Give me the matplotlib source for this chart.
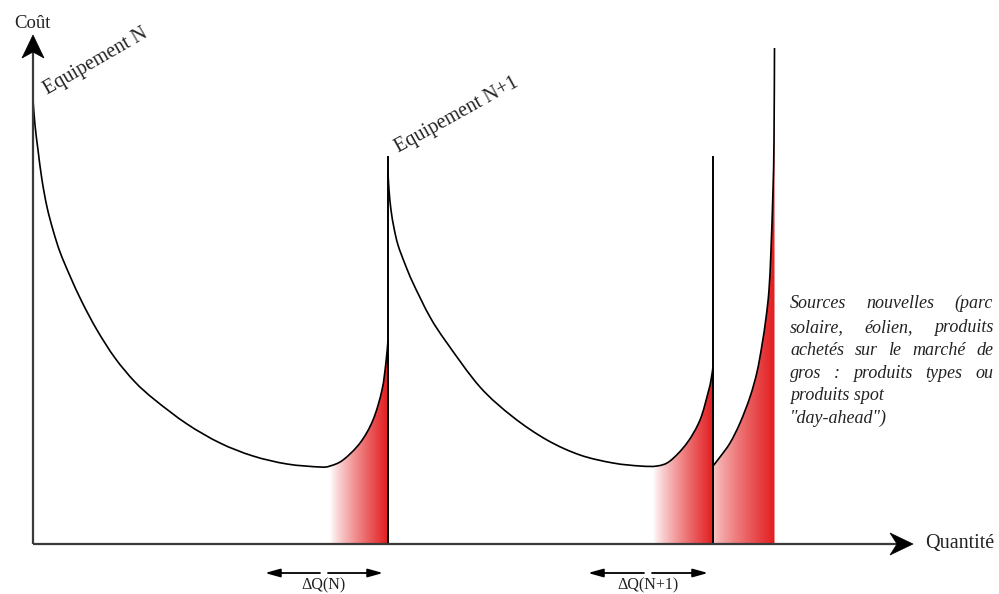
import numpy as np
import matplotlib
matplotlib.use("Agg")
import matplotlib.pyplot as plt
from matplotlib.patches import Polygon, PathPatch
from matplotlib.path import Path

# ---------------- data (quantity, cost) ----------------
curve1_q = [0, 2, 5, 9, 14, 20, 27, 37, 49, 64, 82, 102, 122, 154, 187, 220, 254, 287,
            297, 310, 327, 340, 349, 353, 355]
curve1_c = [444, 419, 394, 364, 337, 314, 292, 268, 242, 214, 186, 162, 144, 120, 101, 88, 80, 77,
            78, 84, 101, 124, 154, 182, 204]

curve2_q = [355, 356, 358, 361, 365, 372, 380, 397, 414, 447, 480, 514, 547, 580, 607, 624,
            637, 654, 667, 675, 678, 680]
curve2_c = [372, 354, 334, 316, 299, 280, 261, 227, 201, 157, 127, 104, 89, 81, 78, 78,
            83, 101, 124, 151, 164, 177]

curve3_q = [680, 687, 697, 707, 717, 724, 729, 733, 736, 738, 740, 741, 741.5]
curve3_c = [78, 87, 101, 121, 147, 172, 199, 226, 254, 294, 354, 404, 496]

equip_q = [355, 680]          # vertical lines (new equipment)
equip_top = [387, 387]

fill_ranges = [(297, 355), (620, 680), (680, 741.5)]
fill_alpha0 = [0.0, 0.0, 0.25]

delta_labels = ["ΔQ(N)", "ΔQ(N+1)"]
delta_centers = [291, 615]
delta_left = [232, 555]
delta_right = [350, 675]

para_lines = ["Sources nouvelles (parc", "solaire, éolien, produits",
              "achetés sur le marché de", "gros : produits types ou",
              "produits spot", "\"day-ahead\")"]
para_justify = [True, True, True, True, False, False]

RED = (0.89, 0.11, 0.12)
AXC = "#3a3a3a"
TXT = "#222222"


def smooth_path(qs, cs, close_to_axis=False):
    """Catmull-Rom through the read points, drawn as cubic Bezier segments."""
    p = np.column_stack([qs, cs]).astype(float)
    n = len(p)
    verts = [tuple(p[0])]
    codes = [Path.MOVETO]
    for i in range(n - 1):
        p0 = p[i - 1] if i > 0 else p[i]
        p1, p2 = p[i], p[i + 1]
        p3 = p[i + 2] if i + 2 < n else p[i + 1]
        c1 = p1 + (p2 - p0) / 6.0
        c2 = p2 - (p3 - p1) / 6.0
        verts += [tuple(c1), tuple(c2), tuple(p2)]
        codes += [Path.CURVE4] * 3
    if close_to_axis:
        verts += [(p[-1, 0], 0), (p[0, 0], 0), (p[0, 0], 0)]
        codes += [Path.LINETO, Path.LINETO, Path.CLOSEPOLY]
    return Path(verts, codes)


fig = plt.figure(figsize=(9.99, 5.94), dpi=100)
ax = fig.add_axes([0, 0, 1, 1])
ax.axis("off")

segments = [(np.array(curve1_q, float), np.array(curve1_c, float)),
            (np.array(curve2_q, float), np.array(curve2_c, float)),
            (np.array(curve3_q, float), np.array(curve3_c, float))]

# gradient fills under the curves
for (q0, q1), a0, (cq, cc) in zip(fill_ranges, fill_alpha0, segments):
    clip = PathPatch(smooth_path(cq, cc, close_to_axis=True), facecolor="none", edgecolor="none")
    ax.add_patch(clip)
    n = 256
    grad = np.zeros((1, n, 4))
    grad[..., 0], grad[..., 1], grad[..., 2] = RED
    t = np.linspace(0, 1, n)
    grad[0, :, 3] = a0 + (1 - a0) * t ** 0.85
    im = ax.imshow(grad, extent=[q0, q1, 0, max(cc)], aspect="auto",
                   interpolation="bilinear", zorder=1, origin="lower")
    im.set_clip_path(clip)

# curves
for cq, cc in segments:
    ax.add_patch(PathPatch(smooth_path(cq, cc), facecolor="none", edgecolor="black",
                           lw=1.2, zorder=3))
for q, top in zip(equip_q, equip_top):
    ax.plot([q, q], [0, top], color="black", lw=1.4, zorder=3)

ax.set_xlim(-33, 966)
ax.set_ylim(-50, 544)

# axes
ax.plot([0, 0], [0, 492], color=AXC, lw=1.6, zorder=4, solid_capstyle="butt")
ax.plot([0, 864], [0, 0], color=AXC, lw=1.6, zorder=4, solid_capstyle="butt")
ax.add_patch(Polygon([(0, 509), (-11, 486), (0, 492), (11, 486)], closed=True,
                     facecolor="black", edgecolor="black", lw=0.5, zorder=5))
ax.add_patch(Polygon([(880, 0), (857, 11), (864, 0), (857, -11)], closed=True,
                     facecolor="black", edgecolor="black", lw=0.5, zorder=5))

serif = ["Liberation Serif", "DejaVu Serif"]
ax.text(-1, 516, "Coût", family=serif, fontsize=13.5, color=TXT, ha="center", va="baseline")
ax.text(892, -4, "Quantité", family=serif, fontsize=14.5, color=TXT, ha="left", va="baseline")
ax.text(14, 449, "Equipement N", family=serif, fontsize=14.5, color=TXT, rotation=30,
        rotation_mode="anchor", ha="left", va="baseline")
ax.text(366, 391, "Equipement N+1", family=serif, fontsize=14.5, color=TXT, rotation=29,
        rotation_mode="anchor", ha="left", va="baseline")

# delta arrows
for lab, c, l, r in zip(delta_labels, delta_centers, delta_left, delta_right):
    for end, start in ((l, c - 4), (r, c + 4)):
        ax.annotate("", xy=(end, -29), xytext=(start, -29),
                    arrowprops=dict(arrowstyle="-|>,head_length=0.9,head_width=0.25",
                                    color="black", lw=1.3, shrinkA=0, shrinkB=0))
    ax.text(c, -45, lab, family=serif, fontsize=11.5, color=TXT, ha="center", va="baseline")

# justified italic paragraph
para_left, para_right = 757, 960
baselines = [236, 212, 189, 166, 144, 121]
fig.canvas.draw()
renderer = fig.canvas.get_renderer()
for line, just, yb in zip(para_lines, para_justify, baselines):
    kw = dict(family=serif, style="italic", fontsize=13, color=TXT, ha="left", va="baseline")
    if not just:
        ax.text(para_left, yb, line, **kw)
        continue
    words = line.split(" ")
    objs = [ax.text(para_left, yb, w, **kw) for w in words]
    widths = [o.get_window_extent(renderer).width for o in objs]
    gap = (para_right - para_left - sum(widths)) / (len(words) - 1)
    x = para_left
    for o, w in zip(objs, widths):
        o.set_x(x)
        x += w + gap

fig.savefig("out.png", dpi=100)
